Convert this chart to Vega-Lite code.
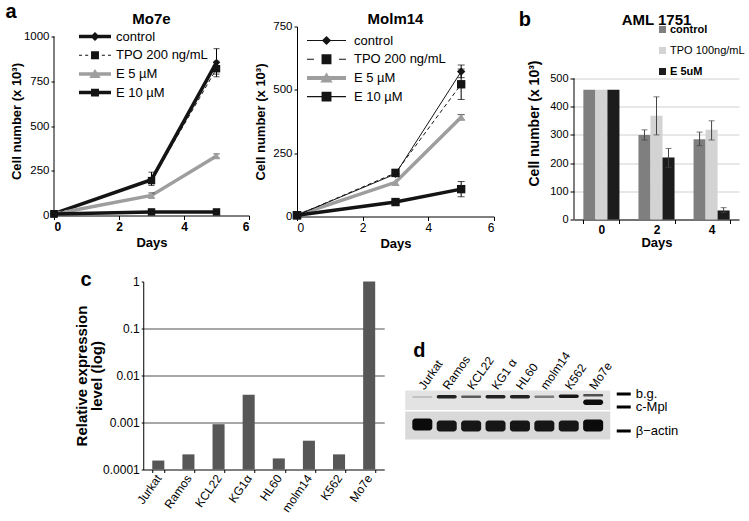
{
  "$schema": "https://vega.github.io/schema/vega-lite/v6.json",
  "background": "white",
  "padding": {"left": 5, "top": 1.5, "right": 0, "bottom": 0},
  "spacing": 19,
  "center": true,
  "resolve": {"scale": {"color": "independent", "shape": "independent", "opacity": "independent"}, "legend": {"color": "independent", "shape": "independent"}},
  "config": {
    "font": "Liberation Sans",
    "view": {"stroke": null},
    "axis": {"grid": false, "domainColor": "#000", "tickColor": "#000", "labelColor": "#000", "titleColor": "#000", "labelFontSize": 11.5, "titleFontSize": 13, "titleFontWeight": "bold", "tickSize": 4, "labelPadding": 2},
    "title": {"fontSize": 15, "fontWeight": "bold", "color": "#000", "baseline": "alphabetic"},
    "legend": {"labelColor": "#000", "padding": 0}
  },
  "datasets": {
    "mo7e": [
      {"series": "control", "day": 0, "value": 10},
      {"series": "control", "day": 3, "value": 200, "lo": 168, "hi": 242},
      {"series": "control", "day": 5, "value": 855, "lo": 790, "hi": 932},
      {"series": "TPO 200 ng/mL", "day": 0, "value": 10},
      {"series": "TPO 200 ng/mL", "day": 3, "value": 195},
      {"series": "TPO 200 ng/mL", "day": 5, "value": 820, "lo": 775, "hi": 862},
      {"series": "E 5 µM", "day": 0, "value": 8},
      {"series": "E 5 µM", "day": 3, "value": 112, "lo": 98, "hi": 126},
      {"series": "E 5 µM", "day": 5, "value": 332, "lo": 322, "hi": 344},
      {"series": "E 10 µM", "day": 0, "value": 8},
      {"series": "E 10 µM", "day": 3, "value": 20},
      {"series": "E 10 µM", "day": 5, "value": 20}
    ],
    "molm14": [
      {"series": "control", "day": 0, "value": 5},
      {"series": "control", "day": 3, "value": 168},
      {"series": "control", "day": 5, "value": 572, "lo": 548, "hi": 598},
      {"series": "TPO 200 ng/mL", "day": 0, "value": 5},
      {"series": "TPO 200 ng/mL", "day": 3, "value": 172, "lo": 160, "hi": 186},
      {"series": "TPO 200 ng/mL", "day": 5, "value": 522, "lo": 462, "hi": 582},
      {"series": "E 5 µM", "day": 0, "value": 5},
      {"series": "E 5 µM", "day": 3, "value": 135},
      {"series": "E 5 µM", "day": 5, "value": 392, "lo": 382, "hi": 402},
      {"series": "E 10 µM", "day": 0, "value": 5},
      {"series": "E 10 µM", "day": 3, "value": 57, "lo": 50, "hi": 64},
      {"series": "E 10 µM", "day": 5, "value": 108, "lo": 78, "hi": 138}
    ],
    "aml": [
      {"day": "0", "series": "control", "value": 460},
      {"day": "0", "series": "TPO 100ng/mL", "value": 460},
      {"day": "0", "series": "E 5uM", "value": 460},
      {"day": "2", "series": "control", "value": 300, "lo": 282, "hi": 318},
      {"day": "2", "series": "TPO 100ng/mL", "value": 368, "lo": 300, "hi": 435},
      {"day": "2", "series": "E 5uM", "value": 220, "lo": 185, "hi": 252},
      {"day": "4", "series": "control", "value": 285, "lo": 262, "hi": 310},
      {"day": "4", "series": "TPO 100ng/mL", "value": 318, "lo": 282, "hi": 350},
      {"day": "4", "series": "E 5uM", "value": 32, "lo": 25, "hi": 42}
    ],
    "expr": [
      {"cell": "Jurkat", "level": 0.000155},
      {"cell": "Ramos", "level": 0.00021},
      {"cell": "KCL22", "level": 0.00092},
      {"cell": "KG1α", "level": 0.0039},
      {"cell": "HL60", "level": 0.000172},
      {"cell": "molm14", "level": 0.00041},
      {"cell": "K562", "level": 0.00021},
      {"cell": "Mo7e", "level": 1}
    ],
    "lanes": [
      {"lane": "Jurkat"}, {"lane": "Ramos"}, {"lane": "KCL22"}, {"lane": "KG1 α"},
      {"lane": "HL60"}, {"lane": "molm14"}, {"lane": "K562"}, {"lane": "Mo7e"}
    ],
    "strips": [
      {"strip": "top", "top": 0, "bottom": 19.5},
      {"strip": "bottom", "top": 21, "bottom": 49}
    ],
    "bands": [
      {"lane": "Jurkat", "top": 5.5, "bottom": 7.5, "intensity": 0.15},
      {"lane": "Ramos", "top": 4.5, "bottom": 8, "intensity": 0.85},
      {"lane": "KCL22", "top": 5, "bottom": 7.5, "intensity": 0.6},
      {"lane": "KG1 α", "top": 4.5, "bottom": 8, "intensity": 0.85},
      {"lane": "HL60", "top": 4.5, "bottom": 8, "intensity": 0.85},
      {"lane": "molm14", "top": 5, "bottom": 7.5, "intensity": 0.45},
      {"lane": "K562", "top": 4, "bottom": 7.5, "intensity": 0.9},
      {"lane": "Mo7e", "top": 3.5, "bottom": 6, "intensity": 0.65},
      {"lane": "Mo7e", "top": 9, "bottom": 14.5, "intensity": 0.95},
      {"lane": "Jurkat", "top": 28, "bottom": 40, "intensity": 0.95},
      {"lane": "Ramos", "top": 30, "bottom": 41, "intensity": 0.9},
      {"lane": "KCL22", "top": 30, "bottom": 41, "intensity": 0.9},
      {"lane": "KG1 α", "top": 30, "bottom": 41, "intensity": 0.9},
      {"lane": "HL60", "top": 30, "bottom": 41, "intensity": 0.9},
      {"lane": "molm14", "top": 30, "bottom": 41, "intensity": 0.9},
      {"lane": "K562", "top": 30, "bottom": 41, "intensity": 0.9},
      {"lane": "Mo7e", "top": 29, "bottom": 41, "intensity": 0.95}
    ]
  },
  "vconcat": [
    {
      "title": {"text": "a", "anchor": "start", "frame": "bounds", "fontSize": 20, "offset": -20, "dx": -5},
      "resolve": {"scale": {"color": "independent", "shape": "independent"}, "legend": {"color": "independent", "shape": "independent"}},
      "spacing": 23,
      "hconcat": [
        {
          "spacing": 4,
          "resolve": {"scale": {"color": "independent", "shape": "independent"}, "legend": {"color": "independent", "shape": "independent"}},
          "hconcat": [
            {
              "width": 195, "height": 189,
              "data": {"name": "mo7e"},
              "title": {"text": "Mo7e", "anchor": "middle", "frame": "group", "offset": -1},
              "resolve": {"scale": {"color": "independent", "shape": "independent"}, "legend": {"color": "independent", "shape": "independent"}},
              "layer": [
                {
                  "transform": [{"filter": {"field": "series", "oneOf": ["control", "E 5 µM", "E 10 µM"]}}],
                  "mark": {"type": "line", "strokeWidth": 3.5},
                  "encoding": {
                    "x": {"field": "day", "type": "quantitative", "scale": {"domain": [0, 6], "nice": false},
                      "axis": {"values": [0, 2, 4, 6], "title": "Days", "labelFontWeight": "bold", "labelFontSize": 12, "titlePadding": 4}},
                    "y": {"field": "value", "type": "quantitative", "scale": {"domain": [0, 1055.9], "nice": false},
                      "axis": {"values": [0, 125, 250, 375, 500, 625, 750, 875, 1000], "format": "d", "labelExpr": "datum.value % 250 == 0 ? datum.label : ''", "title": "Cell number (x 10³)", "tickSize": 3, "titlePadding": 0, "domain": false}},
                    "color": {"field": "series", "type": "nominal", "scale": {"domain": ["control", "TPO 200 ng/mL", "E 5 µM", "E 10 µM"], "range": ["#141414", "#141414", "#9e9e9e", "#141414"]}, "legend": null}
                  }
                },
                {
                  "data": {"values": [{}]},
                  "mark": {"type": "rule", "color": "#000", "strokeWidth": 1},
                  "encoding": {"x": {"datum": 0, "type": "quantitative"}, "y": {"datum": 0, "type": "quantitative"}, "y2": {"datum": 1000}}
                },
                {
                  "transform": [{"filter": {"field": "series", "equal": "TPO 200 ng/mL"}}],
                  "mark": {"type": "line", "strokeWidth": 1, "strokeDash": [4, 3], "color": "#141414"},
                  "encoding": {"x": {"field": "day", "type": "quantitative"}, "y": {"field": "value", "type": "quantitative"}}
                },
                {
                  "transform": [{"filter": "isValid(datum.lo)"}],
                  "mark": {"type": "rule", "color": "#000", "strokeWidth": 1},
                  "encoding": {"x": {"field": "day", "type": "quantitative"}, "y": {"field": "lo", "type": "quantitative"}, "y2": {"field": "hi"}}
                },
                {
                  "transform": [{"filter": "isValid(datum.lo)"}],
                  "mark": {"type": "tick", "orient": "horizontal", "color": "#000", "size": 6, "thickness": 1},
                  "encoding": {"x": {"field": "day", "type": "quantitative"}, "y": {"field": "lo", "type": "quantitative"}}
                },
                {
                  "transform": [{"filter": "isValid(datum.lo)"}],
                  "mark": {"type": "tick", "orient": "horizontal", "color": "#000", "size": 6, "thickness": 1},
                  "encoding": {"x": {"field": "day", "type": "quantitative"}, "y": {"field": "hi", "type": "quantitative"}}
                },
                {
                  "mark": {"type": "point", "filled": true, "opacity": 1, "size": 55},
                  "encoding": {
                    "x": {"field": "day", "type": "quantitative"},
                    "y": {"field": "value", "type": "quantitative"},
                    "shape": {"field": "series", "type": "nominal", "scale": {"domain": ["control", "TPO 200 ng/mL", "E 5 µM", "E 10 µM"], "range": ["diamond", "square", "triangle-up", "square"]}, "legend": null},
                    "color": {"field": "series", "type": "nominal", "scale": {"domain": ["control", "TPO 200 ng/mL", "E 5 µM", "E 10 µM"], "range": ["#141414", "#141414", "#9e9e9e", "#141414"]}, "legend": null}
                  }
                },
                {
                  "transform": [{"filter": "false"}],
                  "mark": {"type": "point", "filled": true},
                  "encoding": {
                    "x": {"field": "day", "type": "quantitative"},
                    "y": {"field": "value", "type": "quantitative"},
                    "shape": {"field": "series", "type": "nominal",
                      "scale": {"domain": ["control", "TPO 200 ng/mL", "E 5 µM", "E 10 µM"], "range": [
                        "M-1.455,-0.16H1.455V0.16H-1.455Z M0,-0.42L0.42,0L0,0.42L-0.42,0Z",
                        "M-1.455,-0.05H-1.18V0.05H-1.455Z M-0.9,-0.05H-0.62V0.05H-0.9Z M0.62,-0.05H0.9V0.05H0.62Z M1.18,-0.05H1.455V0.05H1.18Z M-0.36,-0.36H0.36V0.36H-0.36Z",
                        "M-1.455,-0.16H1.455V0.16H-1.455Z M0,-0.45L0.52,0.38H-0.52Z",
                        "M-1.455,-0.16H1.455V0.16H-1.455Z M-0.36,-0.36H0.36V0.36H-0.36Z"]},
                      "legend": {"title": null, "orient": "none", "legendX": 30, "legendY": -1, "symbolSize": 484, "symbolStrokeWidth": 0, "symbolOpacity": 1, "labelFontSize": 13, "labelOffset": 10, "rowPadding": 0.7, "padding": 0}},
                    "color": {"field": "series", "type": "nominal", "scale": {"domain": ["control", "TPO 200 ng/mL", "E 5 µM", "E 10 µM"], "range": ["#141414", "#141414", "#9e9e9e", "#141414"]},
                      "legend": {"title": null, "orient": "none", "legendX": 30, "legendY": -1, "symbolSize": 484, "symbolStrokeWidth": 0, "symbolOpacity": 1, "labelFontSize": 13, "labelOffset": 10, "rowPadding": 0.7, "padding": 0}}
                  }
                }
              ]
            },
            {
              "width": 197, "height": 190,
              "data": {"name": "molm14"},
              "title": {"text": "Molm14", "anchor": "middle", "frame": "group", "offset": -6},
              "resolve": {"scale": {"color": "independent", "shape": "independent"}, "legend": {"color": "independent", "shape": "independent"}},
              "layer": [
                {
                  "transform": [{"filter": {"field": "series", "oneOf": ["E 5 µM", "E 10 µM"]}}],
                  "mark": {"type": "line", "strokeWidth": 3.5},
                  "encoding": {
                    "x": {"field": "day", "type": "quantitative", "scale": {"domain": [0, 6], "nice": false},
                      "axis": {"values": [0, 2, 4, 6], "title": "Days", "labelFontSize": 12, "titlePadding": 4}},
                    "y": {"field": "value", "type": "quantitative", "scale": {"domain": [0, 750], "nice": false},
                      "axis": {"values": [0, 125, 250, 375, 500, 625, 750], "format": "d", "labelExpr": "datum.value % 250 == 0 ? datum.label : ''", "title": "Cell number (x 10³)", "tickSize": 3, "titlePadding": 5}},
                    "color": {"field": "series", "type": "nominal", "scale": {"domain": ["control", "TPO 200 ng/mL", "E 5 µM", "E 10 µM"], "range": ["#141414", "#141414", "#9e9e9e", "#141414"]}, "legend": null}
                  }
                },
                {
                  "transform": [{"filter": {"field": "series", "equal": "control"}}],
                  "mark": {"type": "line", "strokeWidth": 1, "color": "#141414"},
                  "encoding": {"x": {"field": "day", "type": "quantitative"}, "y": {"field": "value", "type": "quantitative"}}
                },
                {
                  "transform": [{"filter": {"field": "series", "equal": "TPO 200 ng/mL"}}],
                  "mark": {"type": "line", "strokeWidth": 1, "strokeDash": [4, 3], "color": "#141414"},
                  "encoding": {"x": {"field": "day", "type": "quantitative"}, "y": {"field": "value", "type": "quantitative"}}
                },
                {
                  "transform": [{"filter": "isValid(datum.lo)"}],
                  "mark": {"type": "rule", "color": "#000", "strokeWidth": 1},
                  "encoding": {"x": {"field": "day", "type": "quantitative"}, "y": {"field": "lo", "type": "quantitative"}, "y2": {"field": "hi"}}
                },
                {
                  "transform": [{"filter": "isValid(datum.lo)"}],
                  "mark": {"type": "tick", "orient": "horizontal", "color": "#000", "size": 7, "thickness": 1},
                  "encoding": {"x": {"field": "day", "type": "quantitative"}, "y": {"field": "lo", "type": "quantitative"}}
                },
                {
                  "transform": [{"filter": "isValid(datum.lo)"}],
                  "mark": {"type": "tick", "orient": "horizontal", "color": "#000", "size": 7, "thickness": 1},
                  "encoding": {"x": {"field": "day", "type": "quantitative"}, "y": {"field": "hi", "type": "quantitative"}}
                },
                {
                  "mark": {"type": "point", "filled": true, "opacity": 1, "size": 70},
                  "encoding": {
                    "x": {"field": "day", "type": "quantitative"},
                    "y": {"field": "value", "type": "quantitative"},
                    "shape": {"field": "series", "type": "nominal", "scale": {"domain": ["control", "TPO 200 ng/mL", "E 5 µM", "E 10 µM"], "range": ["diamond", "square", "triangle-up", "square"]}, "legend": null},
                    "color": {"field": "series", "type": "nominal", "scale": {"domain": ["control", "TPO 200 ng/mL", "E 5 µM", "E 10 µM"], "range": ["#141414", "#141414", "#9e9e9e", "#141414"]}, "legend": null}
                  }
                },
                {
                  "transform": [{"filter": "false"}],
                  "mark": {"type": "point", "filled": true},
                  "encoding": {
                    "x": {"field": "day", "type": "quantitative"},
                    "y": {"field": "value", "type": "quantitative"},
                    "shape": {"field": "series", "type": "nominal",
                      "scale": {"domain": ["control", "TPO 200 ng/mL", "E 5 µM", "E 10 µM"], "range": [
                        "M-1.77,-0.05H1.77V0.05H-1.77Z M0,-0.42L0.42,0L0,0.42L-0.42,0Z",
                        "M-1.77,-0.05H-1.14V0.05H-1.77Z M1.14,-0.05H1.77V0.05H1.14Z M-0.45,-0.45H0.45V0.45H-0.45Z",
                        "M-1.77,-0.18H1.77V0.18H-1.77Z M0,-0.48L0.56,0.42H-0.56Z",
                        "M-1.77,-0.05H1.77V0.05H-1.77Z M-0.45,-0.45H0.45V0.45H-0.45Z"]},
                      "legend": {"title": null, "orient": "none", "legendX": 18.5, "legendY": 3, "symbolSize": 484, "symbolStrokeWidth": 0, "symbolOpacity": 1, "labelFontSize": 13, "labelOffset": 16.5, "rowPadding": 0.7, "padding": 0}},
                    "color": {"field": "series", "type": "nominal", "scale": {"domain": ["control", "TPO 200 ng/mL", "E 5 µM", "E 10 µM"], "range": ["#141414", "#141414", "#9e9e9e", "#141414"]},
                      "legend": {"title": null, "orient": "none", "legendX": 18.5, "legendY": 3, "symbolSize": 484, "symbolStrokeWidth": 0, "symbolOpacity": 1, "labelFontSize": 13, "labelOffset": 16.5, "rowPadding": 0.7, "padding": 0}}
                  }
                }
              ]
            }
          ]
        },
        {
          "title": {"text": "b", "anchor": "start", "frame": "bounds", "fontSize": 20, "offset": -27.5, "dx": -9},
          "resolve": {"scale": {"color": "independent"}, "legend": {"color": "independent"}},
          "hconcat": [
            {
              "width": 165, "height": 193,
              "data": {"name": "aml"},
              "title": {"text": "AML 1751", "anchor": "middle", "frame": "group", "offset": -25.5},
              "layer": [
                {
                  "mark": {"type": "bar"},
                  "encoding": {
                    "x": {"field": "day", "type": "nominal", "sort": ["0", "2", "4"], "scale": {"paddingInner": 0.345, "paddingOuter": 0.17},
                      "axis": {"title": "Days", "labelAngle": 0, "labelFontWeight": "bold", "labelFontSize": 12, "tickBand": "extent", "titlePadding": 1, "labelPadding": 1}},
                    "xOffset": {"field": "series", "type": "nominal", "scale": {"domain": ["control", "TPO 100ng/mL", "E 5uM"], "paddingInner": 0, "paddingOuter": 0}},
                    "y": {"field": "value", "type": "quantitative", "stack": null, "scale": {"domain": [0, 684.4], "nice": false},
                      "axis": {"values": [0, 100, 200, 300, 400, 500], "tickCount": 8, "labelOverlap": false, "grid": true, "gridColor": "#cfcfcf", "domain": false, "title": "Cell number (x 10³)", "titleFontSize": 14, "labelFontSize": 11, "titlePadding": 8}},
                    "color": {"field": "series", "type": "nominal", "scale": {"domain": ["control", "TPO 100ng/mL", "E 5uM"], "range": ["#7f7f7f", "#d3d3d3", "#1c1c1c"]},
                      "legend": {"title": null, "orient": "none", "legendX": 61, "legendY": -24.5, "symbolType": "square", "symbolSize": 49, "symbolStrokeWidth": 0, "labelFontSize": 11, "labelOffset": 2, "rowPadding": 9, "padding": 22,
                        "labelFontWeight": {"expr": "datum.label == 'TPO 100ng/mL' ? 'normal' : 'bold'"}}}
                  }
                },
                {
                  "data": {"values": [{}]},
                  "mark": {"type": "rule", "color": "#000", "strokeWidth": 1},
                  "encoding": {"x": {"value": 0}, "y": {"datum": 0, "type": "quantitative",
                      "axis": {"values": [0, 100, 200, 300, 400, 500], "tickCount": 8, "labelOverlap": false, "grid": true, "gridColor": "#cfcfcf", "domain": false, "title": "Cell number (x 10³)", "titleFontSize": 14, "labelFontSize": 11, "titlePadding": 8}},
                    "y2": {"datum": 500}}
                },
                {
                  "transform": [{"filter": "isValid(datum.lo)"}],
                  "mark": {"type": "rule", "color": "#444", "strokeWidth": 1},
                  "encoding": {
                    "x": {"field": "day", "type": "nominal", "sort": ["0", "2", "4"]},
                    "xOffset": {"field": "series", "type": "nominal"},
                    "y": {"field": "lo", "type": "quantitative",
                      "axis": {"values": [0, 100, 200, 300, 400, 500], "tickCount": 8, "labelOverlap": false, "grid": true, "gridColor": "#cfcfcf", "domain": false, "title": "Cell number (x 10³)", "titleFontSize": 14, "labelFontSize": 11, "titlePadding": 8}},
                    "y2": {"field": "hi"}
                  }
                },
                {
                  "transform": [{"filter": "isValid(datum.lo)"}],
                  "mark": {"type": "tick", "orient": "horizontal", "color": "#444", "size": 6, "thickness": 1},
                  "encoding": {
                    "x": {"field": "day", "type": "nominal", "sort": ["0", "2", "4"]},
                    "xOffset": {"field": "series", "type": "nominal"},
                    "y": {"field": "lo", "type": "quantitative",
                      "axis": {"values": [0, 100, 200, 300, 400, 500], "tickCount": 8, "labelOverlap": false, "grid": true, "gridColor": "#cfcfcf", "domain": false, "title": "Cell number (x 10³)", "titleFontSize": 14, "labelFontSize": 11, "titlePadding": 8}}
                  }
                },
                {
                  "transform": [{"filter": "isValid(datum.lo)"}],
                  "mark": {"type": "tick", "orient": "horizontal", "color": "#444", "size": 6, "thickness": 1},
                  "encoding": {
                    "x": {"field": "day", "type": "nominal", "sort": ["0", "2", "4"]},
                    "xOffset": {"field": "series", "type": "nominal"},
                    "y": {"field": "hi", "type": "quantitative",
                      "axis": {"values": [0, 100, 200, 300, 400, 500], "tickCount": 8, "labelOverlap": false, "grid": true, "gridColor": "#cfcfcf", "domain": false, "title": "Cell number (x 10³)", "titleFontSize": 14, "labelFontSize": 11, "titlePadding": 8}}
                  }
                }
              ]
            }
          ]
        }
      ]
    },
    {
      "resolve": {"scale": {"color": "independent", "opacity": "independent"}, "legend": {"color": "independent"}},
      "hconcat": [
        {
          "width": 241, "height": 188,
          "data": {"name": "expr"},
          "title": {"text": "c", "anchor": "start", "frame": "bounds", "fontSize": 20, "offset": -14, "dx": 6},
          "mark": {"type": "bar", "color": "#575757"},
          "encoding": {
            "x": {"field": "cell", "type": "nominal", "sort": null, "scale": {"paddingInner": 0.6, "paddingOuter": 0.3},
              "axis": {"title": null, "labelAngle": -55, "labelFontSize": 12, "tickBand": "extent", "tickSize": 3, "labelPadding": 3}},
            "y": {"field": "level", "type": "quantitative", "scale": {"type": "log", "domain": [0.0001, 1]},
              "axis": {"values": [0.0001, 0.001, 0.01, 0.1, 1], "format": ".4~f", "title": ["Relative expression", "level (log)"], "titleFontSize": 15, "titleLineHeight": 15, "titlePadding": -2,
                "grid": true, "gridColor": "#8a8a8a", "gridWidth": 1.5,
                "gridOpacity": {"condition": {"test": "datum.value >= 0.5 || datum.value <= 0.0002", "value": 0}, "value": 1},
                "tickSize": 2, "labelFontSize": 12}},
            "y2": {"datum": 0.0001}
          }
        },
        {
          "width": 205, "height": 158,
          "layer": [
            {
              "data": {"name": "strips"},
              "mark": {"type": "rect"},
              "encoding": {
                "y": {"field": "top", "type": "quantitative", "scale": {"domain": [-109, 49], "reverse": true, "nice": false, "zero": false},
                  "axis": {"orient": "right", "values": [3, 16, 40], "labelExpr": "datum.value == 3 ? 'b.g.' : datum.value == 16 ? 'c-Mpl' : 'β−actin'", "domain": false, "grid": false, "tickSize": 14, "tickWidth": 3, "offset": 6, "labelPadding": 5, "labelFontSize": 13, "title": null}},
                "y2": {"field": "bottom"},
                "color": {"field": "strip", "type": "nominal", "scale": {"domain": ["top", "bottom"], "range": ["#e3e3e3", "#d9d9d9"]}, "legend": null}
              }
            },
            {
              "data": {"name": "bands"},
              "mark": {"type": "rect", "color": "#000", "cornerRadius": 3},
              "encoding": {
                "x": {"field": "lane", "type": "nominal", "scale": {"domain": ["Jurkat", "Ramos", "KCL22", "KG1 α", "HL60", "molm14", "K562", "Mo7e"], "paddingInner": 0.18, "paddingOuter": 0.29}, "axis": null},
                "y": {"field": "top", "type": "quantitative"},
                "y2": {"field": "bottom"},
                "opacity": {"field": "intensity", "type": "quantitative", "scale": {"domain": [0, 1], "range": [0, 1]}, "legend": null}
              }
            },
            {
              "data": {"name": "lanes"},
              "mark": {"type": "text", "angle": -55, "align": "left", "baseline": "middle", "fontSize": 12, "dx": -2},
              "encoding": {
                "x": {"field": "lane", "type": "nominal"},
                "y": {"datum": -4},
                "text": {"field": "lane"}
              }
            },
            {
              "data": {"values": [{}]},
              "mark": {"type": "text", "text": "d", "fontSize": 20, "fontWeight": "bold", "baseline": "middle", "dx": -3},
              "encoding": {
                "x": {"datum": "Jurkat"},
                "y": {"datum": -40}
              }
            }
          ]
        }
      ],
      "spacing": 21
    }
  ]
}
